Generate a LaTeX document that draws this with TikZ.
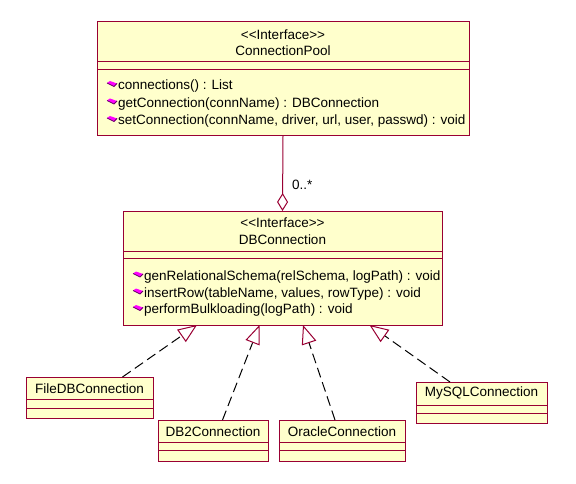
\documentclass[tikz,border=0pt]{standalone}
\usepackage{fontspec}
\setmainfont{Liberation Sans}
\usetikzlibrary{arrows.meta}

\definecolor{umlred}{RGB}{153,0,51}
\definecolor{umlyellow}{RGB}{255,255,204}
\definecolor{opmagenta}{RGB}{255,0,255}
\definecolor{opshadow}{RGB}{102,0,102}

\newcommand{\stereotype}[1]{<\kern0pt<\kern0pt#1\kern0pt>\kern0pt>}

\tikzset{
  classbox/.style={draw=umlred, fill=umlyellow, line width=1pt, inner sep=0pt, outer sep=0pt, anchor=north west},
  sepline/.style={draw=umlred, line width=1pt},
  umltext/.style={inner sep=0pt, font=\fontsize{13.5}{15}\selectfont},
  optext/.style={umltext, anchor=west},
  realize/.style={draw=black, line width=1pt, dash pattern=on 10pt off 5pt, -{Triangle[open, length=19pt, width=15pt, color=umlred]}},
  aggregate/.style={draw=umlred, line width=1pt, -{Diamond[open, length=18pt, width=11pt]}},
  opicon/.pic={
    \fill[opmagenta] (0,2) -- (3,0) -- (10,2.5) -- (7,5.5) -- cycle;
    \draw[opshadow, line width=0.8pt] (0,2) -- (7,5.5) -- (10,2.5);
  }
}

\begin{document}
\begin{tikzpicture}[x=1pt, y=-1pt]
        \useasboundingbox (0,0) rectangle (576,484);

        %interface ConnectionPool
        \node[classbox, minimum width=372pt, minimum height=114pt] (pool) at (97,22) {};
        \draw[sepline] (97,62) -- (469,62);
        \draw[sepline] (97,70) -- (469,70);
        \node[umltext] (poolstereo) at (283,35) {\stereotype{Interface}};
        \node[umltext] (poolname) at (283,51) {ConnectionPool};
        \pic at (107,81) {opicon};
        \node[optext] (poolconns) at (118,86.5) {connections() : List};
        \pic at (107,98.5) {opicon};
        \node[optext] (poolget) at (118,104) {getConnection(connName) : DBConnection};
        \pic at (107,116) {opicon};
        \node[optext] (poolset) at (118,121.5) {setConnection(connName, driver, url, user, passwd) : void};

        %interface DBConnection
        \node[classbox, minimum width=319pt, minimum height=114pt] (dbconn) at (123,211) {};
        \draw[sepline] (123,251) -- (442,251);
        \draw[sepline] (123,258) -- (442,258);
        \node[umltext] (dbstereo) at (282.5,223) {\stereotype{Interface}};
        \node[umltext] (dbname) at (282.5,240) {DBConnection};
        \pic at (133,271.5) {opicon};
        \node[optext] (dbschema) at (144,277) {genRelationalSchema(relSchema, logPath) : void};
        \pic at (133,288.5) {opicon};
        \node[optext] (dbinsert) at (144,294) {insertRow(tableName, values, rowType) : void};
        \pic at (133,305) {opicon};
        \node[optext] (dbbulk) at (144,310.5) {performBulkloading(logPath) : void};

        %implementing classes
        \node[classbox, minimum width=127pt, minimum height=41pt] (filedb) at (26,377) {};
        \draw[sepline] (26,399) -- (153,399);
        \draw[sepline] (26,408) -- (153,408);
        \node[umltext] (filedbname) at (89.5,388.5) {FileDBConnection};

        \node[classbox, minimum width=110pt, minimum height=41pt] (dbtwo) at (158,420) {};
        \draw[sepline] (158,442.5) -- (268,442.5);
        \draw[sepline] (158,450.5) -- (268,450.5);
        \node[umltext] (dbtwoname) at (213,431.5) {DB2Connection};

        \node[classbox, minimum width=126pt, minimum height=41pt] (oracle) at (279,420) {};
        \draw[sepline] (279,442.5) -- (405,442.5);
        \draw[sepline] (279,450.5) -- (405,450.5);
        \node[umltext] (oraclename) at (342,431.5) {OracleConnection};

        \node[classbox, minimum width=131pt, minimum height=41pt] (mysql) at (416,382) {};
        \draw[sepline] (416,405) -- (547,405);
        \draw[sepline] (416,413) -- (547,413);
        \node[umltext] (mysqlname) at (481.5,393.5) {MySQLConnection};

        %aggregation
        \draw[aggregate] (pool.south) -- (dbconn.north);
        \node[umltext, anchor=west] (mult) at (292,185) {0..*};

        %arrows
        \draw[realize] ([xshift=96.5pt]filedb.north west) -- ([xshift=74pt]dbconn.south west);
        \draw[realize] ([xshift=64.5pt]dbtwo.north west) -- ([xshift=136.5pt]dbconn.south west);
        \draw[realize] ([xshift=56pt]oracle.north west) -- ([xshift=180pt]dbconn.south west);
        \draw[realize] ([xshift=34pt]mysql.north west) -- ([xshift=246.5pt]dbconn.south west);
    \end{tikzpicture}
\end{document}
